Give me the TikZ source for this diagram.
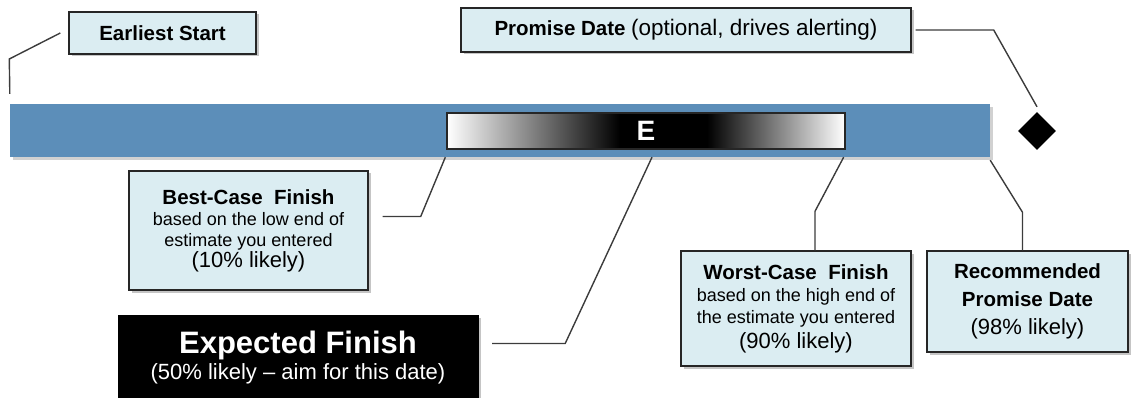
\documentclass[tikz,border=0pt]{standalone}
\usepackage{fontspec}
\setmainfont{Liberation Sans}
\usetikzlibrary{shapes.geometric,shadows,calc}
\definecolor{boxfill}{RGB}{219,237,242}
\definecolor{barblue}{RGB}{92,142,185}
\definecolor{lineg}{RGB}{60,60,60}
\newcommand{\myTitle}{\fontsize{20.5}{22}\selectfont\bfseries}
\newcommand{\mySmall}{\fontsize{18}{22}\selectfont}
\newcommand{\myLikely}{\fontsize{22}{22}\selectfont}
\tikzset{
  lbl/.style={draw=black!85, line width=1.4pt, fill=boxfill, align=center, inner sep=0pt,
    drop shadow={shadow xshift=2.5pt, shadow yshift=-2.5pt, fill=black!45, opacity=0.5}},
  conn/.style={draw=lineg, line width=1.4pt},
}
\begin{document}
\begin{tikzpicture}[x=1pt,y=-1pt]
\useasboundingbox (0,0) rectangle (1132,398);
% bar
\node[fill=barblue, minimum width=980pt, minimum height=53pt, inner sep=0pt,
  drop shadow={shadow xshift=3pt, shadow yshift=-3pt, fill=black!30, opacity=0.6}] (bar) at (500,130.5) {};
% gradient box
\shade[left color=white, right color=black] (447,113) rectangle (620,149);
\fill[black] (620,113) rectangle (707,149);
\shade[left color=black, right color=white] (707,113) rectangle (845,149);
\node[draw=black!85, line width=1.3pt, minimum width=398pt, minimum height=36pt, inner sep=0pt,
  text=white, font=\fontsize{28}{28}\selectfont\bfseries] (grad) at (646,131) {E};
% diamond
\node[diamond, fill=black, minimum width=38pt, minimum height=38pt, inner sep=0pt] (dia) at (1037,131) {};
% label boxes
\node[lbl, minimum width=187pt, minimum height=42pt, font=\myTitle] (es) at (162.5,33) {Earliest Start};
\node[lbl, minimum width=450pt, minimum height=44pt] (pd) at (686,30)
  {{\myTitle Promise Date}\ \ {\fontsize{22.5}{24}\selectfont (optional, drives alerting)}};
\node[lbl, minimum width=239pt, minimum height=119pt, font=\mySmall] (bc) at (248.5,230.5)
  {{\myTitle Best-Case\ \ Finish}\\[-1pt]
   based on the low end of\\[-1pt]
   estimate you entered\\[-1pt]
   {\myLikely (10\% likely)}};
\node[draw=black, fill=black, text=white, align=center, inner sep=0pt, minimum width=360pt, minimum height=85pt,
  drop shadow={shadow xshift=2.5pt, shadow yshift=-2.5pt, fill=black!45, opacity=0.5}] (ef) at (298,357.5)
  {{\fontsize{31}{31}\selectfont\bfseries Expected Finish}\\[3pt]
   {\fontsize{22}{24}\selectfont (50\% likely -- aim for this date)}};
\node[lbl, minimum width=230pt, minimum height=115pt, font=\mySmall] (wc) at (796,308.5)
  {{\myTitle Worst-Case\ \ Finish}\\[0pt]
   based on the high end of\\[0pt]
   the estimate you entered\\[3pt]
   {\myLikely (90\% likely)}};
\node[lbl, minimum width=201pt, minimum height=101pt, font=\myLikely] (rp) at (1027.5,301.5)
  {{\myTitle Recommended}\\[6pt]
   {\myTitle Promise Date}\\[6pt]
   (98\% likely)};
% connectors
\draw[conn] ([xshift=-8pt]es.west) -- ++(-51,26) -- ($(bar.north west)+(0,-10)$);
\draw[conn] ([xshift=4pt]pd.east) -- ++(78,0) -- ([yshift=5pt]dia.north);
\draw[conn] ([xshift=14pt,yshift=14pt]bc.east) -- ++(38,0) -- ($(grad.south west |- bar.south)+(-1,0)$);
\draw[conn] ([xshift=14pt,yshift=14pt]ef.east) -- ++(73,0) -- ($(grad.south |- bar.south)+(6,0)$);
\draw[conn] ([xshift=19pt]wc.north) -- ++(0,-39) -- ($(grad.south east |- bar.south)+(-2,0)$);
\draw[conn] ([xshift=-5pt]rp.north) -- ++(0,-38) -- ($(bar.south east)+(0,3)$);
\end{tikzpicture}
\end{document}
